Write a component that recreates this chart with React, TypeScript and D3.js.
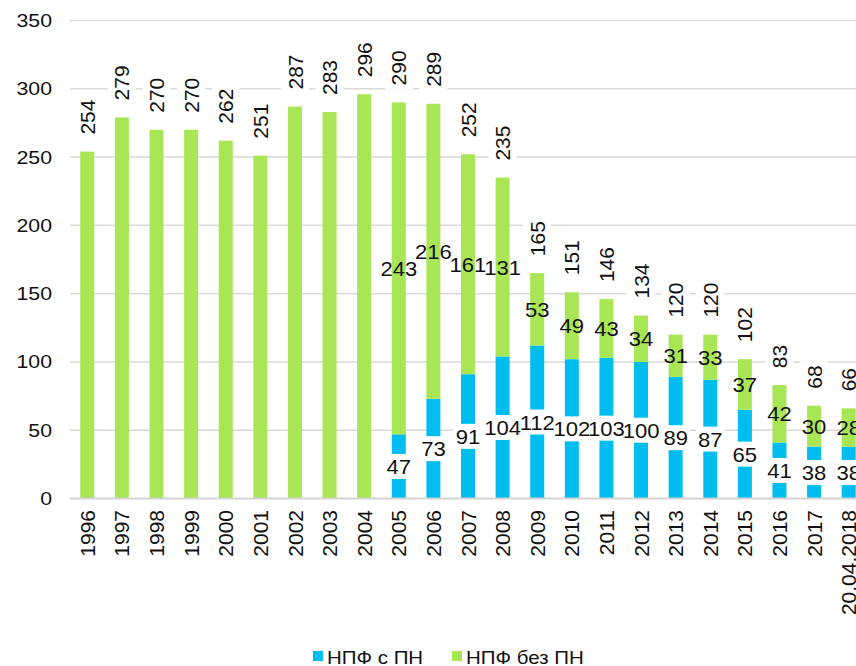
import React, { useRef, useEffect } from "react";
import * as d3 from "d3";

// categories (years) and the two stacked series
const years = [
  "1996", "1997", "1998", "1999", "2000", "2001", "2002", "2003", "2004",
  "2005", "2006", "2007", "2008", "2009", "2010", "2011", "2012", "2013",
  "2014", "2015", "2016", "2017", "20.04.2018",
];
const withPN = [
  0, 0, 0, 0, 0, 0, 0, 0, 0,
  47, 73, 91, 104, 112, 102, 103, 100, 89, 87, 65, 41, 38, 38,
];
const withoutPN = [
  254, 279, 270, 270, 262, 251, 287, 283, 296,
  243, 216, 161, 131, 53, 49, 43, 34, 31, 33, 37, 42, 30, 28,
];
const yTicks = [0, 50, 100, 150, 200, 250, 300, 350];
const legendLabels = ["НПФ с ПН", "НПФ без ПН"];

const BLUE = "#00bdf0";
const GREEN = "#a8e655";
const FONT = "'Liberation Sans', Arial, sans-serif";

const App = () => {
  const d3Ref = useRef<SVGSVGElement | null>(null);

  useEffect(() => {
    if (!d3Ref.current) return;
    const svg = d3.select(d3Ref.current);
    svg.selectAll("*").remove();

    const width = 856;
    const height = 666;

    const x = d3
      .scaleBand<string>()
      .domain(years)
      .range([70, 866])
      .paddingInner(0.595)
      .paddingOuter(0.2975);
    const y = d3.scaleLinear().domain([0, 350]).range([498.5, 20.5]);

    svg.append("rect").attr("width", width).attr("height", height).attr("fill", "#fff");

    // gridlines
    svg
      .selectAll(".grid")
      .data(yTicks.filter((t) => t > 0))
      .enter()
      .append("line")
      .attr("x1", 70)
      .attr("x2", width)
      .attr("y1", (d) => y(d))
      .attr("y2", (d) => y(d))
      .attr("stroke", "#d9d9d9")
      .attr("stroke-width", 1.5);

    // y tick labels
    svg
      .selectAll(".ytick")
      .data(yTicks)
      .enter()
      .append("g")
      .attr("transform", (d) => `translate(52,${y(d)}) scale(1.15,1)`)
      .append("text")
      .attr("text-anchor", "end")
      .attr("dy", "0.35em")
      .attr("font-family", FONT)
      .attr("font-size", 18.5)
      .attr("fill", "#111")
      .text((d) => d);

    const cx = (i: number) => (x(years[i]) as number) + x.bandwidth() / 2;
    const total = (i: number) => withPN[i] + withoutPN[i];

    // bars
    const bars = svg.append("g");
    years.forEach((yr, i) => {
      if (withPN[i] > 0) {
        bars
          .append("rect")
          .attr("x", x(yr) as number)
          .attr("width", x.bandwidth())
          .attr("y", y(withPN[i]))
          .attr("height", y(0) - y(withPN[i]))
          .attr("fill", BLUE);
      }
      bars
        .append("rect")
        .attr("x", x(yr) as number)
        .attr("width", x.bandwidth())
        .attr("y", y(total(i)))
        .attr("height", y(withPN[i]) - y(total(i)))
        .attr("fill", GREEN);
    });

    // axis line at 0
    svg
      .append("line")
      .attr("x1", 70)
      .attr("x2", width)
      .attr("y1", y(0))
      .attr("y2", y(0))
      .attr("stroke", "#d3d3d3")
      .attr("stroke-width", 2);

    // inner segment labels: white boxes behind the blue ones first, then all texts
    const boxLayer = svg.append("g");
    const textLayer = svg.append("g");
    const inner = (i: number, lo: number, hi: number, val: number, boxed: boolean) => {
      const tf = `translate(${cx(i)},${y((lo + hi) / 2)}) scale(1.05,1)`;
      const t = textLayer
        .append("g")
        .attr("transform", tf)
        .append("text")
        .attr("text-anchor", "middle")
        .attr("dy", "0.36em")
        .attr("font-family", FONT)
        .attr("font-size", 21)
        .attr("fill", "#111")
        .text(val);
      if (boxed) {
        const len = (t.node() as SVGTextElement).getComputedTextLength();
        boxLayer
          .append("rect")
          .attr("transform", tf)
          .attr("fill", "#fff")
          .attr("x", -len / 2 - 2)
          .attr("y", -12.5)
          .attr("width", len + 4)
          .attr("height", 25);
      }
    };
    years.forEach((_, i) => {
      if (withPN[i] > 0) {
        inner(i, 0, withPN[i], withPN[i], true);
        inner(i, withPN[i], total(i), withoutPN[i], false);
      }
    });

    // totals, rotated above bars
    years.forEach((_, i) => {
      const g = svg
        .append("g")
        .attr("transform", `translate(${cx(i)},${y(total(i)) - 17}) rotate(-90)`);
      const r = g.append("rect").attr("fill", "#fff");
      const t = g
        .append("text")
        .attr("text-anchor", "start")
        .attr("dy", "0.36em")
        .attr("font-family", FONT)
        .attr("font-size", 21)
        .attr("fill", "#111")
        .text(total(i));
      const len = (t.node() as SVGTextElement).getComputedTextLength();
      r.attr("x", -4).attr("y", -14).attr("width", len + 8).attr("height", 28);
    });

    // x axis labels
    years.forEach((yr, i) => {
      svg
        .append("text")
        .attr("transform", `translate(${cx(i)},510) rotate(-90)`)
        .attr("text-anchor", "end")
        .attr("dy", "0.36em")
        .attr("font-family", FONT)
        .attr("font-size", 21)
        .attr("fill", "#111")
        .text(yr);
    });

    // legend
    const legend = [
      { label: legendLabels[0], color: BLUE, sx: 313, tx: 327 },
      { label: legendLabels[1], color: GREEN, sx: 452, tx: 466 },
    ];
    legend.forEach((l) => {
      svg
        .append("rect")
        .attr("x", l.sx)
        .attr("y", 651)
        .attr("width", 10)
        .attr("height", 10)
        .attr("fill", l.color);
      svg
        .append("g")
        .attr("transform", `translate(${l.tx},663.5) scale(1.17,1)`)
        .append("text")
        .attr("font-family", FONT)
        .attr("font-size", 17.5)
        .attr("fill", "#111")
        .text(l.label);
    });
  }, []);

  return (
    <svg
      ref={d3Ref}
      width={856}
      height={666}
      style={{ position: "absolute", left: 0, top: 0, display: "block" }}
    />
  );
};

export default App;
